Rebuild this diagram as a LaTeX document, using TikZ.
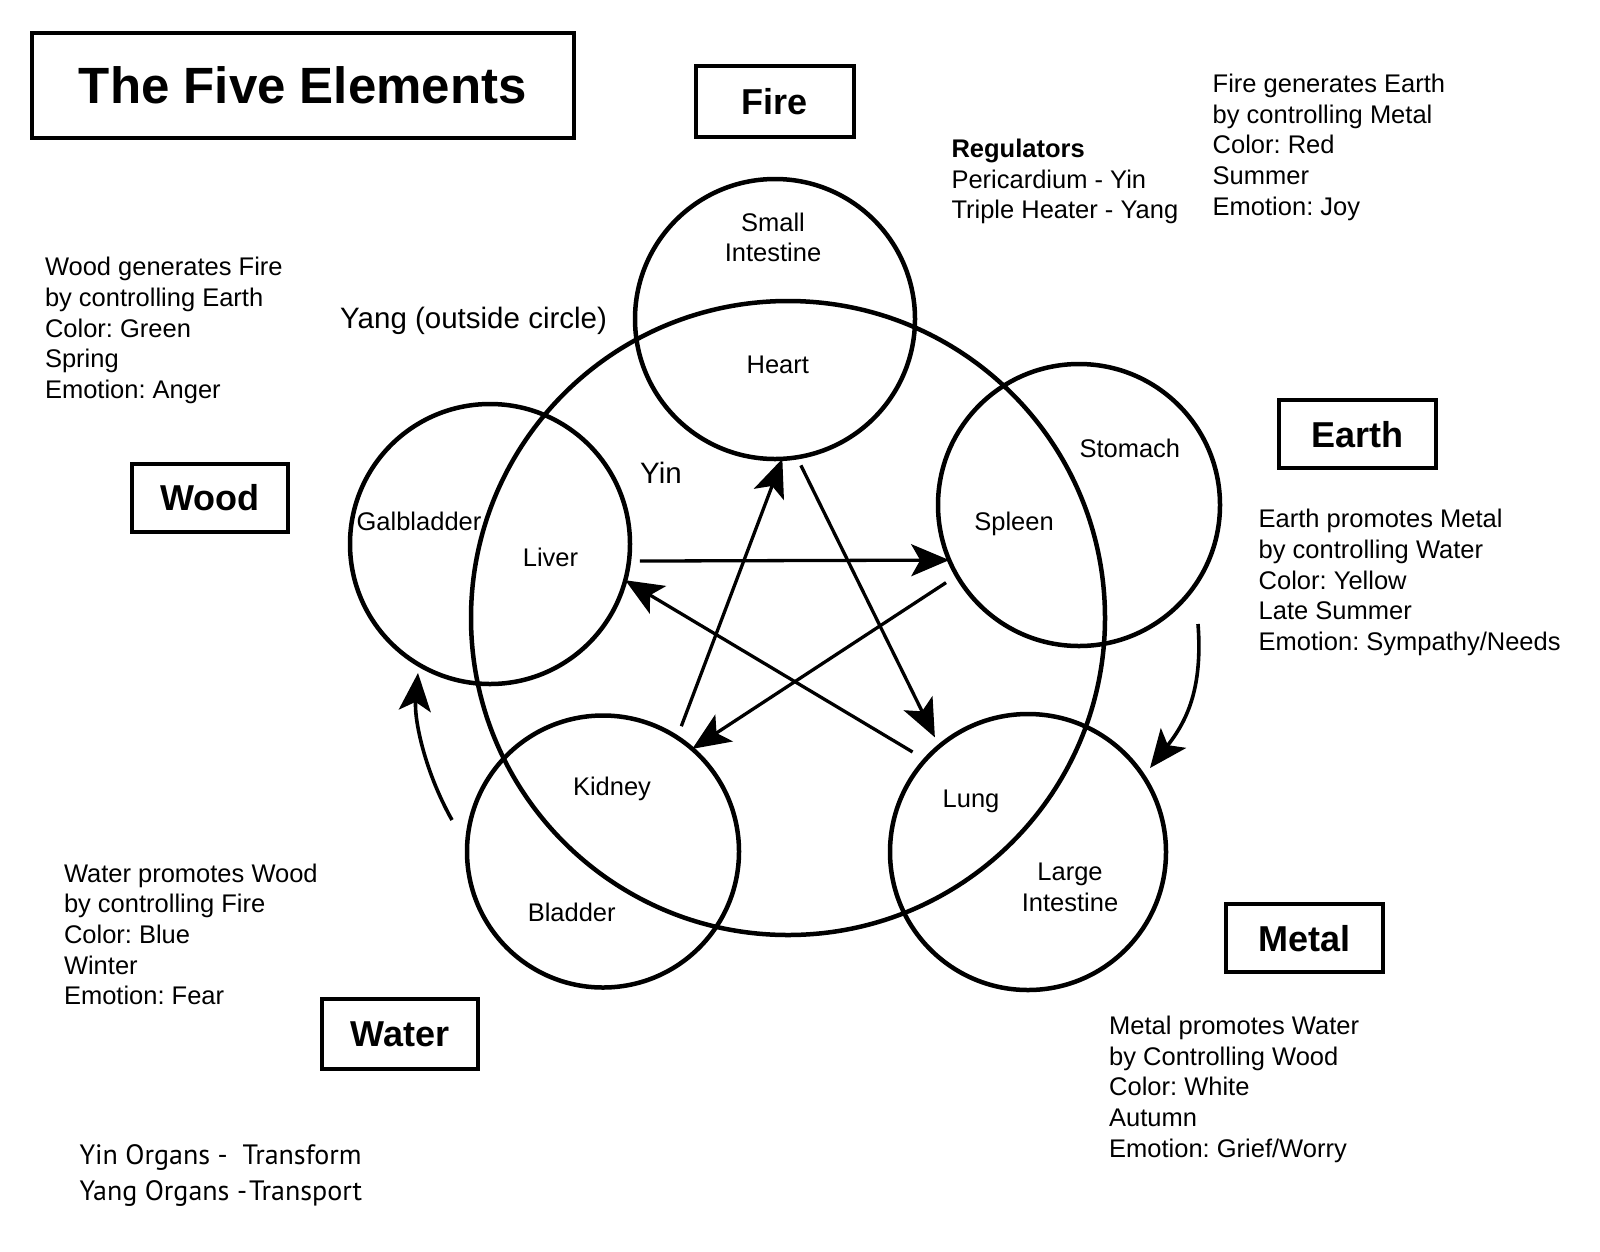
\documentclass[tikz,border=0pt]{standalone}
\usepackage{fontspec}
\setmainfont{Liberation Sans}
\newfontfamily\myriadlike{PT Sans}
\usetikzlibrary{arrows.meta}
\frenchspacing
\begin{document}
\begin{tikzpicture}[x=1pt,y=-1pt,
  elbox/.style={draw, line width=4pt, rectangle, inner sep=0pt, outer sep=0pt,
    font=\fontsize{36}{43}\selectfont\bfseries},
  organ/.style={draw, circle, line width=4.5pt, inner sep=0pt, outer sep=0pt},
  lbl/.style={anchor=base, align=center, inner sep=0pt, font=\fontsize{25.5}{30.7}\selectfont\frenchspacing},
  biglbl/.style={anchor=base, inner sep=0pt, font=\fontsize{29.5}{35}\selectfont},
  info/.style={anchor=base west, align=left, inner sep=0pt, font=\fontsize{25.5}{30.7}\selectfont\frenchspacing},
  ctrl/.style={line width=3.3pt, -{Stealth[length=38pt,width=32pt,inset=9pt]}},
  gen/.style={line width=3.6pt, -{Stealth[length=38pt,width=32pt,inset=9pt]}},
]
\useasboundingbox[fill=white] (0,0) rectangle (1600,1251);

% element boxes
\node[elbox, minimum width=542pt, minimum height=105pt,
  font=\fontsize{51}{60}\selectfont\bfseries] (title) at (302.8,85) {The Five Elements};
\node[elbox, minimum width=157.6pt, minimum height=71pt] (fire) at (774.8,101.2) {Fire};
\node[elbox, minimum width=156pt, minimum height=67.6pt] (wood) at (209.7,497.8) {Wood};
\node[elbox, minimum width=157pt, minimum height=68.5pt] (earth) at (1357.5,434.2) {Earth};
\node[elbox, minimum width=156.5pt, minimum height=68.5pt] (metal) at (1304.7,938.2) {Metal};
\node[elbox, minimum width=156.5pt, minimum height=69.5pt] (water) at (399.8,1034.2) {Water};

% circles
\node[organ, minimum size=634pt] (yang) at (788,618) {};
\node[organ, minimum size=280pt] (firec) at (775,319) {};
\node[organ, minimum size=282pt] (earthc) at (1079,505) {};
\node[organ, minimum size=280pt] (woodc) at (490,544) {};
\node[organ, minimum size=272pt] (waterc) at (603,851.5) {};
\node[organ, minimum size=276pt] (metalc) at (1028,852) {};

% organ labels (base anchor = baseline of the last line)
\node[lbl] (si) at (773,261.7) {Small\\Intestine};
\node[lbl] (heart) at (777.8,373) {Heart};
\node[lbl] (stomach) at (1129.8,457) {Stomach};
\node[lbl] (spleen) at (1014,530.3) {Spleen};
\node[lbl] (gall) at (419,530.3) {Galbladder};
\node[lbl] (liver) at (550.5,566) {Liver};
\node[lbl] (kidney) at (612,795) {Kidney};
\node[lbl] (bladder) at (571.7,921.6) {Bladder};
\node[lbl] (lung) at (971,807.5) {Lung};
\node[lbl] (li) at (1070,911) {Large\\Intestine};
\node[biglbl] (yin) at (661,483) {Yin};
\node[biglbl] (yanglbl) at (473.6,328.5) {Yang (outside circle)};

% control cycle (pentagram)
\draw[ctrl, shorten <=11pt] (woodc.-7) -- (earthc.203);
\draw[ctrl, shorten <=13pt] (earthc.210) -- (waterc.49);
\draw[ctrl, shorten <=12pt] (waterc.57) -- (firec.-87);
\draw[ctrl, shorten <=9pt, shorten >=10pt] (firec.-81) -- (metalc.130);
\draw[ctrl, shorten <=15pt] (metalc.138) -- (woodc.-15.5);

% generating arrows
\coordinate (wwS) at (452,820);
\coordinate (wwE) at (418,673);
\draw[gen] (wwS) .. controls (425,772) and (414,720) .. (wwE);
\coordinate (emS) at (1198,624);
\coordinate (emE) at (1150,768);
\draw[gen] (emS) .. controls (1203,690) and (1186,722) .. (emE);

% text blocks (base anchor = baseline of the last line)
\node[info] (woodtxt) at (44.8,398.6) {Wood generates Fire\\by controlling Earth\\Color: Green\\Spring\\Emotion: Anger};
\node[info] (firetxt) at (1212.5,215.2) {Fire generates Earth\\by controlling Metal\\Color: Red\\Summer\\Emotion: Joy};
\node[info] (regtxt) at (951.3,218.8) {\textbf{Regulators}\\Pericardium - Yin\\Triple Heater - Yang};
\node[info] (earthtxt) at (1258.5,650.4) {Earth promotes Metal\\by controlling Water\\Color: Yellow\\Late Summer\\Emotion: Sympathy/Needs};
\node[info] (watertxt) at (63.8,1004.8) {Water promotes Wood\\by controlling Fire\\Color: Blue\\Winter\\Emotion: Fear};
\node[info] (metaltxt) at (1109,1157.2) {Metal promotes Water\\by Controlling Wood\\Color: White\\Autumn\\Emotion: Grief/Worry};
\node[info, font=\myriadlike\fontsize{28}{35.7}\selectfont] (yinyang) at (79.3,1200)
  {Yin Organs -\ \ Transform\\Yang Organs -\hspace{2pt}Transport};
\end{tikzpicture}
\end{document}
